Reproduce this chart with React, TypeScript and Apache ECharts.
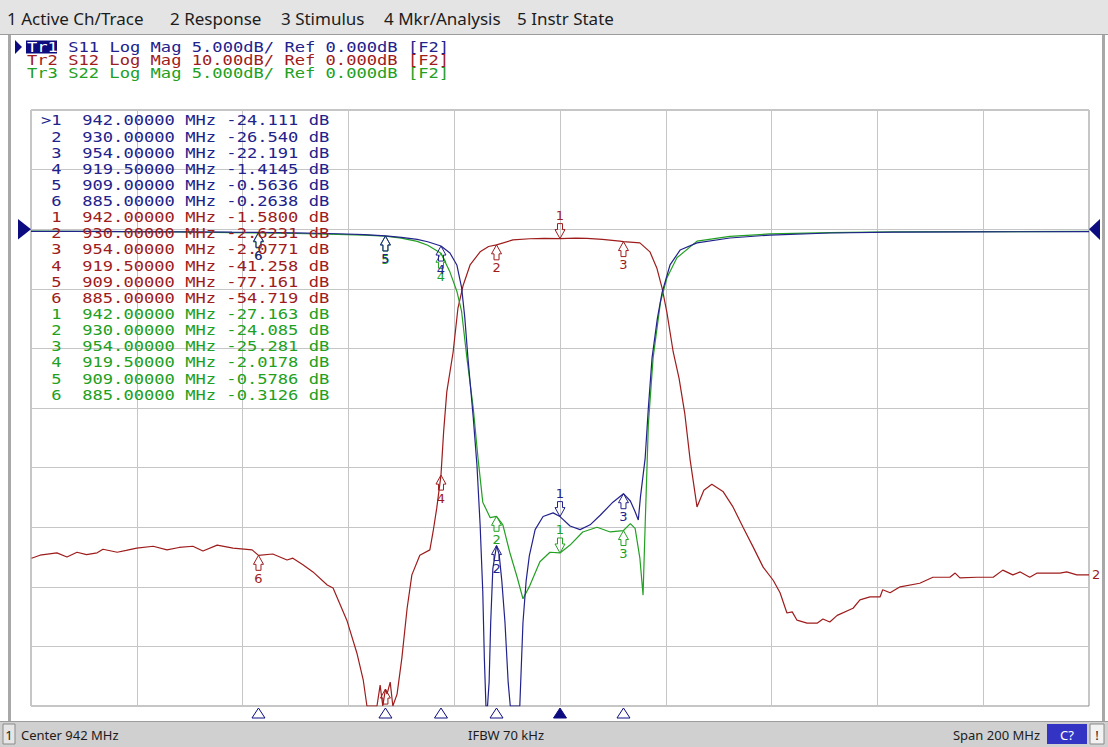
import React, { useEffect, useRef } from "react";
import * as echarts from "echarts";

// ---------- stimulus ----------
const CENTER_MHZ = 942;
const SPAN_MHZ = 200;

// ---------- texts ----------
const MENU_ITEMS = ["1 Active Ch/Trace", "2 Response", "3 Stimulus", "4 Mkr/Analysis", "5 Instr State"];
const MENU_X = [7, 170, 281, 384, 517];
const HEADER_LINES = [
  "Tr1 S11 Log Mag 5.000dB/ Ref 0.000dB [F2]",
  "Tr2 S12 Log Mag 10.00dB/ Ref 0.000dB [F2]",
  "Tr3 S22 Log Mag 5.000dB/ Ref 0.000dB [F2]",
];
const STATUS_CENTER = "Center 942 MHz";
const STATUS_IFBW = "IFBW 70 kHz";
const STATUS_SPAN = "Span 200 MHz";

// ---------- markers ----------
const MARKER_FREQ = [942, 930, 954, 919.5, 909, 885];
const S11_MARKER_DB = [-24.111, -26.54, -22.191, -1.4145, -0.5636, -0.2638];
const S12_MARKER_DB = [-1.58, -2.6231, -2.0771, -41.258, -77.161, -54.719];
const S22_MARKER_DB = [-27.163, -24.085, -25.281, -2.0178, -0.5786, -0.3126];

// ---------- traces ----------
const S11_FREQ = [842, 850, 860, 870, 880, 885, 892, 900, 905, 909, 912, 915, 917, 919.5, 921.2, 922.5, 923.4, 924.0, 924.6, 925.6, 926.3, 926.9, 927.4, 927.7, 928.0, 928.3, 928.6, 928.9, 929.3, 930.0, 930.5, 931.0, 931.6, 932.2, 932.6, 934.0, 934.4, 935.0, 935.6, 936.2, 937.3, 938.8, 940.7, 942, 943.9, 945.8, 947.7, 949.6, 952.0, 954, 955.3, 956.2, 956.8, 957.2, 958.1, 958.7, 959.4, 960.4, 961.3, 962.8, 964.7, 967.9, 974.1, 981.7, 993, 1005, 1020, 1042];
const S11_DB = [-0.18, -0.19, -0.21, -0.22, -0.25, -0.26, -0.3, -0.38, -0.46, -0.56, -0.68, -0.86, -1.05, -1.41, -2.0, -3.0, -4.9, -7.4, -10.8, -15.8, -19.8, -24.8, -30.4, -36, -40, -40, -38, -33, -28.5, -26.54, -27.3, -29.5, -33, -38, -40, -40, -40, -33, -29.5, -27.4, -25.2, -24.1, -23.8, -24.11, -24.9, -25.2, -24.8, -24.0, -22.9, -22.19, -22.8, -23.7, -24.4, -22.5, -19.2, -15, -10.8, -7.5, -5.3, -3.0, -1.75, -1.15, -0.74, -0.49, -0.32, -0.25, -0.22, -0.2];

const S22_FREQ = [842, 850, 860, 870, 880, 885, 892, 900, 905, 909, 912, 915, 917, 919.5, 921.2, 922.5, 923.4, 924.4, 925.6, 926.5, 927.4, 928.8, 930, 931.2, 932.5, 933.9, 935.0, 936.3, 938.2, 940.1, 942, 943.9, 946.3, 949, 951.5, 954, 955.3, 956.2, 957.1, 957.7, 958.1, 958.7, 959.6, 961, 962.2, 964.1, 967.9, 974.1, 981.7, 993, 1005, 1020, 1042];
const S22_DB = [-0.15, -0.17, -0.2, -0.23, -0.28, -0.31, -0.36, -0.43, -0.5, -0.58, -0.75, -1.02, -1.35, -2.02, -3.6, -5.2, -6.9, -10.8, -15, -19.2, -22.9, -24.2, -24.09, -24.8, -27.1, -29.2, -31, -29.9, -27.9, -27.1, -27.16, -26.5, -25.4, -25.0, -25.4, -25.28, -24.7, -25.1, -27.6, -30.7, -24.8, -16.4, -10.8, -6.1, -4.1, -2.4, -1.0, -0.6, -0.4, -0.28, -0.23, -0.2, -0.19];

const S12_FREQ = [842.1, 843.7, 846.9, 848.8, 850.7, 852.5, 854.5, 855.6, 858.3, 860, 862, 865.1, 867.7, 870, 872.6, 874.5, 877.2, 880.2, 883.8, 885, 887.7, 890.4, 891.5, 893.4, 895.3, 898, 899.1, 901.7, 903.6, 904.8, 905.5, 907.4, 908, 908.5, 909, 909.3, 909.9, 910.4, 911.2, 912.1, 913.1, 914, 915.5, 917.4, 918, 918.7, 919.5, 920, 920.6, 921.8, 922.7, 923.7, 925, 926.9, 928.5, 930, 933.1, 936.3, 939, 942, 945, 947.1, 950, 953.3, 954, 957.1, 959, 960.3, 961.3, 962.2, 963.4, 964.5, 965.6, 966.6, 967.9, 969.2, 970.7, 972.8, 974.7, 976.6, 978.5, 980.4, 982.3, 983.6, 984.9, 985.9, 986.8, 988.7, 990.6, 991.7, 993, 994.4, 997.4, 998.7, 1000.6, 1002.5, 1003, 1004.4, 1006.3, 1010, 1012.5, 1015.7, 1016.7, 1017.6, 1020.8, 1023.9, 1025.7, 1027.6, 1029, 1030.8, 1032.2, 1036.5, 1037.8, 1039.7, 1042];
const S12_DB = [-55.2, -54.7, -54.3, -55.0, -54.2, -54.6, -54.3, -53.7, -54.2, -53.9, -53.5, -53.2, -53.8, -53.4, -53.2, -54.0, -53.0, -53.5, -53.8, -54.72, -54.5, -55.5, -55.2, -56.3, -57.5, -59.7, -60.2, -65.6, -71.1, -75.6, -80, -80, -76.5, -80, -77.16, -78, -76, -80, -78, -72, -63.6, -58, -54.7, -53.8, -50.8, -46.8, -41.26, -34, -27.3, -20.6, -13.3, -9.4, -6.0, -3.8, -2.9, -2.62, -1.8, -1.6, -1.55, -1.58, -1.5, -1.55, -1.7, -2.0, -2.08, -2.3, -3.8, -6.5, -9.9, -13.9, -20.6, -25, -31, -38.7, -46.6, -43.8, -42.8, -44, -46.6, -50, -53.3, -56.7, -58.9, -61, -64.4, -64.2, -65.6, -66.1, -66.1, -65.4, -65.9, -64.8, -63.6, -62.2, -61.7, -61.7, -60.5, -61, -60, -59.4, -58.4, -58.4, -57.7, -58.5, -58.4, -58.4, -57.2, -58, -57.5, -58.4, -57.7, -57.7, -57.5, -58, -58];

// ---------- styles ----------
const BLUE = "#22228c";
const RED = "#9e1c1c";
const GREEN = "#22a022";
const NAVY = "#0c0c80";
const MONO = '14px "DejaVu Sans Mono"';
const MONO_SCALE = 10.3 / (14 * 0.602);
const UI_FONT = '"Noto Sans", "DejaVu Sans", sans-serif';

const fmtDb = (v: number) => (Math.abs(v) >= 10 ? v.toFixed(3) : v.toFixed(4));

function buildOption() {
  const toPairs = (fs: number[], ds: number[]) => fs.map((f, i) => [f - CENTER_MHZ, ds[i]]);

  const g: any[] = [];
  // menu bar
  g.push({ type: "rect", z: 1, shape: { x: 0, y: 0, width: 1108, height: 34 }, style: { fill: "#e4e4e4" } });
  g.push({ type: "line", z: 2, shape: { x1: 0, y1: 34.5, x2: 1108, y2: 34.5 }, style: { stroke: "#9c9c9c", lineWidth: 1 } });
  MENU_ITEMS.forEach((t, i) =>
    g.push({
      type: "text", z: 3, x: MENU_X[i], y: 18,
      style: { text: t, font: `17px ${UI_FONT}`, fill: "#1c1c1c", verticalAlign: "middle", textVerticalAlign: "middle" },
    })
  );
  // window side borders
  g.push({ type: "rect", z: 1, shape: { x: 8, y: 35, width: 3, height: 686 }, style: { fill: "#a8a8a8" } });
  g.push({ type: "rect", z: 1, shape: { x: 1102, y: 35, width: 3, height: 686 }, style: { fill: "#a8a8a8" } });

  // trace header lines
  const headerColors = [BLUE, RED, GREEN];
  const headerY = [47, 60, 73];
  g.push({ type: "polygon", z: 5, shape: { points: [[15, 40], [22, 47], [15, 54]] }, style: { fill: NAVY } });
  HEADER_LINES.forEach((line, i) => {
    if (i === 0) {
      const head = line.slice(0, 3);
      const rest = line.slice(4);
      g.push({ type: "rect", z: 5, shape: { x: 26, y: 40.5, width: 31, height: 13 }, style: { fill: NAVY } });
      g.push({ type: "text", z: 6, x: 27, y: headerY[i], scaleX: MONO_SCALE, style: { text: head, font: MONO, fill: "#ffffff", verticalAlign: "middle", textVerticalAlign: "middle" } });
      g.push({ type: "text", z: 6, x: 27 + 4 * 10.3, y: headerY[i], scaleX: MONO_SCALE, style: { text: rest, font: MONO, fill: headerColors[i], verticalAlign: "middle", textVerticalAlign: "middle" } });
    } else {
      g.push({ type: "text", z: 6, x: 27, y: headerY[i], scaleX: MONO_SCALE, style: { text: line, font: MONO, fill: headerColors[i], verticalAlign: "middle", textVerticalAlign: "middle" } });
    }
  });

  // marker table
  const tables = [
    { vals: S11_MARKER_DB, color: BLUE },
    { vals: S12_MARKER_DB, color: RED },
    { vals: S22_MARKER_DB, color: GREEN },
  ];
  let row = 0;
  tables.forEach((tb, ti) => {
    tb.vals.forEach((v, mi) => {
      const y = 120.5 + row * 16.13;
      const label = ti === 0 && mi === 0 ? ">1" : String(mi + 1);
      g.push({ type: "text", z: 40, x: 41 + 2 * 10.3, y, scaleX: MONO_SCALE, style: { text: label, font: MONO, fill: tb.color, align: "right", textAlign: "right", verticalAlign: "middle", textVerticalAlign: "middle" } });
      g.push({ type: "text", z: 40, x: 41 + 4 * 10.3, y, scaleX: MONO_SCALE, style: { text: `${MARKER_FREQ[mi].toFixed(5)} MHz ${fmtDb(v)} dB`, font: MONO, fill: tb.color, verticalAlign: "middle", textVerticalAlign: "middle" } });
      row++;
    });
  });

  // reference level triangles
  g.push({ type: "polygon", z: 40, shape: { points: [[18, 219], [31, 229.2], [18, 239.5]] }, style: { fill: NAVY } });
  g.push({ type: "polygon", z: 40, shape: { points: [[1089, 229.2], [1100, 219], [1100, 240]] }, style: { fill: NAVY } });

  // status bar
  g.push({ type: "rect", z: 1, shape: { x: 0, y: 721, width: 1108, height: 26 }, style: { fill: "#d0d0d0" } });
  g.push({ type: "line", z: 2, shape: { x1: 0, y1: 721.5, x2: 1108, y2: 721.5 }, style: { stroke: "#9c9c9c", lineWidth: 1 } });
  g.push({ type: "rect", z: 2, shape: { x: 3, y: 724, width: 12, height: 20 }, style: { fill: "#e6e6e6", stroke: "#8a8a8a", lineWidth: 1 } });
  g.push({ type: "text", z: 3, x: 9, y: 734.5, style: { text: "1", font: `13px ${UI_FONT}`, fill: "#1c1c1c", align: "center", textAlign: "center", verticalAlign: "middle", textVerticalAlign: "middle" } });
  g.push({ type: "text", z: 3, x: 21, y: 734.5, style: { text: STATUS_CENTER, font: `13px ${UI_FONT}`, fill: "#1c1c1c", verticalAlign: "middle", textVerticalAlign: "middle" } });
  g.push({ type: "text", z: 3, x: 506, y: 734.5, style: { text: STATUS_IFBW, font: `13px ${UI_FONT}`, fill: "#1c1c1c", align: "center", textAlign: "center", verticalAlign: "middle", textVerticalAlign: "middle" } });
  g.push({ type: "text", z: 3, x: 1040, y: 734.5, style: { text: STATUS_SPAN, font: `13px ${UI_FONT}`, fill: "#1c1c1c", align: "right", textAlign: "right", verticalAlign: "middle", textVerticalAlign: "middle" } });
  g.push({ type: "rect", z: 2, shape: { x: 1047, y: 724, width: 40, height: 20 }, style: { fill: "#3434c4" } });
  g.push({ type: "text", z: 3, x: 1067, y: 734.5, style: { text: "C?", font: `13px ${UI_FONT}`, fill: "#ffffff", align: "center", textAlign: "center", verticalAlign: "middle", textVerticalAlign: "middle" } });
  g.push({ type: "rect", z: 2, shape: { x: 1090, y: 724, width: 14, height: 20 }, style: { fill: "#f2f2f2", stroke: "#8a8a8a", lineWidth: 1 } });
  g.push({ type: "text", z: 3, x: 1097, y: 734.5, style: { text: "!", font: `13px ${UI_FONT}`, fill: "#1c1c1c", align: "center", textAlign: "center", verticalAlign: "middle", textVerticalAlign: "middle" } });

  const lineSeries = (name: string, fs: number[], ds: number[], color: string, yAxisIndex: number, z: number, endLabel?: string) => ({
    type: "line", name, yAxisIndex, z, silent: true, showSymbol: false, symbol: "none", clip: true,
    data: toPairs(fs, ds),
    lineStyle: { color, width: 1.2 },
    itemStyle: { color },
    endLabel: endLabel
      ? { show: true, formatter: endLabel, color, fontSize: 13, fontFamily: "DejaVu Sans", distance: 3 }
      : { show: false },
  });

  const markerSeries = (name: string, dbs: number[], color: string, yAxisIndex: number, z: number) => ({
    type: "custom", name, yAxisIndex, z, silent: true, clip: true,
    data: MARKER_FREQ.map((f, i) => [f - CENTER_MHZ, dbs[i], i]),
    renderItem: (params: any, api: any) => {
      const i = api.value(2);
      const p = api.coord([api.value(0), api.value(1)]);
      const dir = i === 0 ? -1 : 1;
      const shape = [[0, 0], [5, 9], [2.5, 9], [2.5, 15], [-2.5, 15], [-2.5, 9], [-5, 9]];
      const pts = shape.map(([a, b]) => [p[0] + a, p[1] + dir * b]);
      return {
        type: "group",
        children: [
          { type: "polygon", shape: { points: pts }, style: { fill: "none", stroke: color, lineWidth: 1 } },
          {
            type: "text", x: p[0], y: p[1] + dir * 23,
            style: { text: String(i + 1), fill: color, font: '13px "DejaVu Sans"', align: "center", verticalAlign: "middle", textAlign: "center", textVerticalAlign: "middle" },
          },
        ],
      };
    },
  });

  const stimSeries = {
    type: "custom", name: "stim", z: 20, silent: true, clip: false,
    data: MARKER_FREQ.map((f, i) => [f - CENTER_MHZ, -40, i]),
    renderItem: (params: any, api: any) => {
      const i = api.value(2);
      const p = api.coord([api.value(0), api.value(1)]);
      const top = params.coordSys.y + params.coordSys.height + 2;
      return {
        type: "polygon",
        shape: { points: [[p[0], top], [p[0] + 6.5, top + 10], [p[0] - 6.5, top + 10]] },
        style: { fill: i === 0 ? NAVY : "#ffffff", stroke: NAVY, lineWidth: 1 },
      };
    },
  };

  return {
    animation: false,
    backgroundColor: "#ffffff",
    graphic: { elements: g },
    grid: { left: 31, top: 110, width: 1058, height: 596, show: true, borderColor: "#8c8c8c", borderWidth: 1, backgroundColor: "#ffffff" },
    xAxis: {
      type: "value", min: -SPAN_MHZ / 2, max: SPAN_MHZ / 2, interval: SPAN_MHZ / 10,
      axisLabel: { show: false }, axisTick: { show: false }, axisLine: { show: false },
      splitLine: { show: true, lineStyle: { color: "#c6c6c6", width: 1 } },
    },
    yAxis: [
      {
        type: "value", min: -40, max: 10, interval: 5,
        axisLabel: { show: false }, axisTick: { show: false }, axisLine: { show: false },
        splitLine: { show: true, lineStyle: { color: "#c6c6c6", width: 1 } },
      },
      { type: "value", min: -80, max: 20, interval: 10, show: false, splitLine: { show: false } },
    ],
    series: [
      lineSeries("S12", S12_FREQ, S12_DB, RED, 1, 3, "2"),
      lineSeries("S22", S22_FREQ, S22_DB, GREEN, 0, 4),
      lineSeries("S11", S11_FREQ, S11_DB, BLUE, 0, 5),
      markerSeries("S12 markers", S12_MARKER_DB, RED, 1, 6),
      markerSeries("S22 markers", S22_MARKER_DB, GREEN, 0, 7),
      markerSeries("S11 markers", S11_MARKER_DB, BLUE, 0, 8),
      stimSeries,
    ],
  };
}

export default function App() {
  const ref = useRef<HTMLDivElement>(null);
  useEffect(() => {
    const el = ref.current;
    if (!el) return;
    const chart = echarts.init(el, undefined, { renderer: "svg", width: 1108, height: 747 });
    chart.setOption(buildOption() as any);
    return () => chart.dispose();
  }, []);
  return (
    <div
      ref={ref}
      style={{ position: "fixed", left: 0, top: 0, width: 1108, height: 747, background: "#ffffff" }}
    />
  );
}
